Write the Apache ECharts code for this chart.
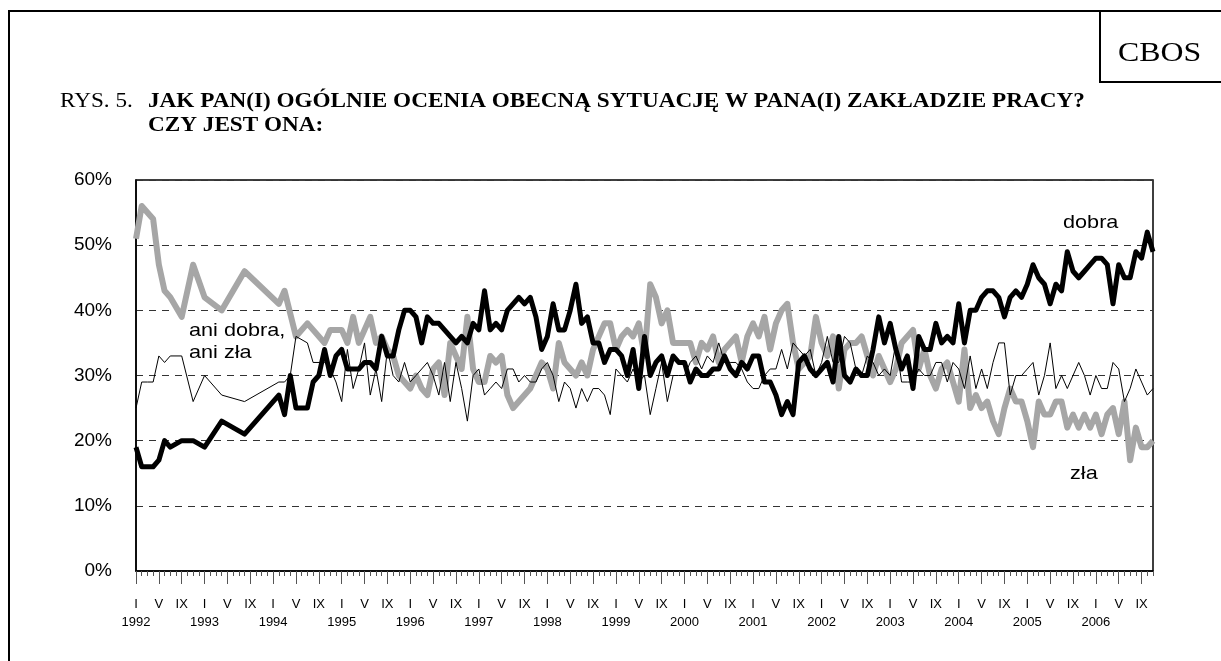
<!DOCTYPE html>
<html>
<head>
<meta charset="UTF-8">
<title>CBOS - ocena sytuacji w zakładzie pracy</title>
<script src="https://cdn.jsdelivr.net/npm/echarts@6/dist/echarts.min.js"></script>
<style>
  html, body { margin: 0; padding: 0; background: #fff; }
  #chart { width: 1221px; height: 661px; }
</style>
</head>
<body>
<div id="chart"></div>
<script type="text/javascript">
// lata i miesiace (cyfry rzymskie) - od I 1992 do XI 2006
var years = [1992, 1993, 1994, 1995, 1996, 1997, 1998, 1999, 2000, 2001, 2002, 2003, 2004, 2005, 2006];
var months = ['I', 'II', 'III', 'IV', 'V', 'VI', 'VII', 'VIII', 'IX', 'X', 'XI', 'XII'];
var lastMonth = 11; // listopad 2006

// w procentach (null = brak badania w danym miesiacu)
var dobra = [
  19,16,16,16,17,20,19,null,20,null,20,null,
  19,null,null,23,null,null,null,21,null,null,null,null,
  null,27,24,30,25,25,25,29,30,34,30,33,
  34,31,31,31,32,32,31,36,33,33,37,40,
  40,39,35,39,38,38,37,36,35,36,35,38,
  37,43,37,38,37,40,41,42,41,42,39,34,
  36,41,37,37,40,44,38,39,35,35,32,34,
  34,33,30,34,28,36,30,32,33,30,33,32,
  32,29,31,30,30,31,31,33,31,30,32,31,
  33,33,29,29,27,24,26,24,32,33,31,30,
  31,32,29,36,30,29,31,30,30,34,39,35,
  38,34,31,33,28,36,34,34,38,35,36,35,
  41,35,40,40,42,43,43,42,39,42,43,42,
  44,47,45,44,41,44,43,49,46,45,46,47,
  48,48,47,41,47,45,45,49,48,52,49
];
var zla = [
  51,56,55,54,47,43,42,null,39,null,47,null,
  42,null,null,40,null,null,null,46,null,null,null,null,
  null,41,43,null,36,null,38,37,null,35,37,null,
  37,35,39,35,37,39,35,36,34,33,30,29,
  28,30,28,27,31,32,27,35,33,31,39,31,
  29,29,33,32,33,27,25,26,27,28,30,32,
  31,28,35,32,31,30,32,30,34,36,38,38,
  34,36,37,36,38,33,44,42,38,40,35,35,
  35,35,32,35,34,36,32,34,35,36,32,36,
  38,36,39,34,38,40,41,35,31,32,33,39,
  35,33,36,28,34,35,35,36,33,30,33,31,
  29,31,35,36,37,31,34,30,28,31,32,29,
  26,34,25,27,25,26,23,21,25,28,26,26,
  23,19,26,24,24,26,26,22,24,22,24,22,
  24,21,24,25,21,26,17,22,19,19,20
];
var aniDobraAniZla = [
  25,29,29,29,33,32,33,null,33,null,26,null,
  30,null,null,27,null,null,null,26,null,null,null,null,
  null,29,29,30,36,null,35,32,null,32,31,29,
  26,34,28,31,35,27,31,26,34,30,29,32,
  29,30,31,32,30,27,32,26,32,28,23,30,
  31,27,28,29,28,31,31,29,30,29,29,31,
  32,30,26,29,28,25,28,26,28,28,27,24,
  31,30,29,31,29,30,24,28,32,26,30,30,
  30,32,33,31,33,32,35,32,32,32,31,29,
  28,28,30,31,31,34,31,35,34,33,34,30,
  32,36,32,32,36,35,31,30,33,32,30,31,
  30,35,29,29,29,31,30,30,32,32,29,32,
  31,28,33,28,31,28,32,35,35,27,30,30,
  31,32,27,30,35,28,30,28,30,32,30,27,
  30,28,28,32,31,26,28,31,29,27,28
];

// kategorie osi X: "I|1992", "II|1992", ...
var categories = [];
for (var y = 0; y < years.length; y++) {
  for (var m = 0; m < 12; m++) {
    if (y === years.length - 1 && m > lastMonth - 1) break;
    categories.push(months[m] + '|' + years[y]);
  }
}

var myChart = echarts.init(document.getElementById('chart'));
var serif = '"Liberation Serif", "Times New Roman", serif';
var sans = '"Liberation Sans", Arial, sans-serif';

// napis rozciagniety w poziomie jak w oryginale
function label(x, y, text, font, sx, lh) {
  return {
    type: 'text', x: x, y: y, scaleX: sx, scaleY: 1, silent: true,
    style: { text: text, font: font, fill: '#000', verticalAlign: 'top', align: 'left', lineHeight: lh }
  };
}

myChart.setOption({
  animation: false,
  backgroundColor: '#fff',
  textStyle: { fontFamily: sans },
  graphic: [
    // ramka strony
    { type: 'rect', shape: { x: 9, y: 11, width: 1230, height: 680 }, style: { fill: 'none', stroke: '#000', lineWidth: 2 }, silent: true },
    // ramka CBOS
    { type: 'rect', shape: { x: 1100, y: 11, width: 140, height: 71 }, style: { fill: 'none', stroke: '#000', lineWidth: 2 }, silent: true },
    label(1118, 40, 'CBOS', '27px ' + serif, 1.18),
    // tytul
    label(60, 92, 'RYS. 5.', '20px ' + serif, 1.16),
    label(148, 92, 'JAK PAN(I) OGÓLNIE OCENIA OBECNĄ SYTUACJĘ W PANA(I) ZAKŁADZIE PRACY?', 'bold 20px ' + serif, 1.16),
    label(148, 116, 'CZY JEST ONA:', 'bold 20px ' + serif, 1.16),
    // podpisy serii
    label(1063, 213, 'dobra', '19px ' + sans, 1.14),
    label(1070, 464, 'zła', '19px ' + sans, 1.14),
    label(189, 320, 'ani dobra,\nani zła', '19px ' + sans, 1.14, 22)
  ],
  grid: {
    left: 136, right: 68, top: 180, bottom: 90,
    show: true, borderColor: '#000', borderWidth: 1.5, backgroundColor: 'transparent'
  },
  xAxis: [{
    type: 'category',
    data: categories,
    boundaryGap: false,
    axisLine: { show: true, lineStyle: { color: '#000', width: 1.5 } },
    axisTick: { show: true, interval: 0, length: 5, lineStyle: { color: '#555' } },
    axisLabel: {
      interval: 3,
      margin: 24,
      color: '#000',
      fontSize: 13,
      lineHeight: 18,
      formatter: function (val) {
        var p = val.split('|');
        return p[0] === 'I' ? 'I\n' + p[1] : p[0];
      }
    },
    splitLine: { show: false }
  }, {
    type: 'category',
    data: categories,
    boundaryGap: false,
    position: 'bottom',
    axisLine: { show: false },
    axisTick: { show: true, interval: 3, length: 13, lineStyle: { color: '#555' } },
    axisLabel: { show: false },
    splitLine: { show: false }
  }],
  yAxis: {
    type: 'value',
    min: 0, max: 60, interval: 10,
    axisLine: { show: true, lineStyle: { color: '#000', width: 1.5 } },
    axisTick: { show: false },
    axisLabel: { formatter: '{value}%', color: '#000', fontSize: 19, margin: 24 },
    splitLine: { show: true, lineStyle: { color: '#333', type: [7, 6], width: 1 } }
  },
  series: [{
    name: 'zła',
    type: 'line',
    data: zla,
    connectNulls: true,
    symbol: 'none',
    lineStyle: { color: '#a6a6a6', width: 6, join: 'round' },
    z: 2
  }, {
    name: 'dobra',
    type: 'line',
    data: dobra,
    connectNulls: true,
    symbol: 'none',
    lineStyle: { color: '#000', width: 5, join: 'round' },
    z: 3
  }, {
    name: 'ani dobra, ani zła',
    type: 'line',
    data: aniDobraAniZla,
    connectNulls: true,
    symbol: 'none',
    lineStyle: { color: '#000', width: 1 },
    z: 4
  }]
});
</script>
</body>
</html>
